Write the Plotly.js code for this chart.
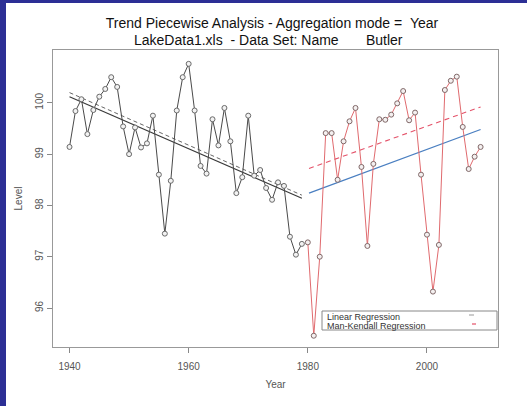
<!DOCTYPE html>
<html>
<head>
<meta charset="utf-8">
<script src="https://cdn.plot.ly/plotly-3.0.1.min.js"></script>
<style>
  html, body { margin: 0; padding: 0; background: #ffffff; }
  #wrap { position: relative; width: 527px; height: 406px; overflow: hidden; }
  #chart { position: absolute; left: 0; top: 0; width: 527px; height: 406px; }
  .strip { position: absolute; background: #2c2f95; }
</style>
</head>
<body>
<div id="wrap">
  <div id="chart"></div>
  <div class="strip" style="left:0;top:0;width:6px;height:406px;"></div>
  <div class="strip" style="left:0;top:0;width:527px;height:3px;"></div>
</div>
<script>
// ---- Data ----
const yearsA = [1940,1941,1942,1943,1944,1945,1946,1947,1948,1949,
                1950,1951,1952,1953,1954,1955,1956,1957,1958,1959,
                1960,1961,1962,1963,1964,1965,1966,1967,1968,1969,
                1970,1971,1972,1973,1974,1975,1976,1977,1978,1979];
const levelsA = [99.14,99.84,100.07,99.39,99.86,100.12,100.27,100.50,100.31,99.54,
                 99.00,99.52,99.13,99.21,99.75,98.60,97.45,98.48,99.85,100.50,
                 100.76,99.85,98.77,98.62,99.68,99.17,99.90,99.25,98.24,98.55,
                 99.75,98.58,98.69,98.34,98.11,98.45,98.38,97.39,97.04,97.25];

const yearsB = [1980,1981,1982,1983,1984,1985,1986,1987,1988,1989,
                1990,1991,1992,1993,1994,1995,1996,1997,1998,1999,
                2000,2001,2002,2003,2004,2005,2006,2007,2008,2009];
const levelsB = [97.28,95.46,97.00,99.41,99.41,98.50,99.25,99.64,99.90,98.75,
                 97.21,98.81,99.68,99.67,99.77,99.99,100.23,99.66,99.81,98.60,
                 97.43,96.32,97.23,100.25,100.43,100.51,99.53,98.71,98.95,99.14];

// regression line end points
const regYearsA = [1940, 1979];
const linRegA   = [100.12, 98.14];
const mkRegA    = [100.20, 98.20];
const regYearsB = [1980.2, 2009];
const linRegB   = [98.24, 99.48];
const mkRegB    = [98.72, 99.92];

const xTickVals = [1940, 1960, 1980, 2000];
const yTickVals = [96, 97, 98, 99, 100];

const titleLine1 = 'Trend Piecewise Analysis - Aggregation mode =\u00a0\u00a0Year';
const titleLine2 = 'LakeData1.xls\u00a0\u00a0- Data Set: Name\u00a0\u00a0\u00a0\u00a0\u00a0\u00a0\u00a0Butler';
const legendLabels = ['Linear Regression', 'Man-Kendall Regression'];

// ---- Layout constants (pixels) ----
const W = 527, H = 406;
const L = 53, R = 498, T = 50, B = 347;
const pw = R - L, ph = B - T;
const px = v => (v - L) / pw;
const py = v => (B - v) / ph;

const font = 'Liberation Sans, Arial, sans-serif';

const traces = [
  { x: regYearsA, y: linRegA, mode: 'lines', line: {color: '#3a3a3a', width: 1.2}, hoverinfo: 'skip' },
  { x: regYearsA, y: mkRegA, mode: 'lines', line: {color: '#666666', width: 1, dash: '4px,3px'}, hoverinfo: 'skip' },
  { x: regYearsB, y: linRegB, mode: 'lines', line: {color: '#4a7fc1', width: 1.3}, hoverinfo: 'skip' },
  { x: regYearsB, y: mkRegB, mode: 'lines', line: {color: '#e4536a', width: 1.1, dash: '5px,4px'}, hoverinfo: 'skip' },
  { x: yearsA, y: levelsA, mode: 'lines+markers',
    line: {color: '#4a4a4a', width: 1},
    marker: {symbol: 'circle', size: 5, color: '#f2f2f2', line: {color: '#6a6a6a', width: 1}} },
  { x: yearsB, y: levelsB, mode: 'lines+markers',
    line: {color: '#e06a6e', width: 1},
    marker: {symbol: 'circle', size: 5, color: '#f4f0f0', line: {color: '#806868', width: 1}} }
];

const layout = {
  width: W, height: H,
  margin: {l: L, r: W - R, t: T, b: H - B, pad: 0},
  paper_bgcolor: '#ffffff', plot_bgcolor: '#ffffff',
  showlegend: false,
  font: {family: font, color: '#555555', size: 10},
  title: {
    text: titleLine1,
    font: {family: font, size: 14, color: '#111111'},
    xref: 'container', x: 272 / W, xanchor: 'center',
    yref: 'container', y: 1 - 23 / H, yanchor: 'middle'
  },
  xaxis: {
    range: [1937.23, 2011.92],
    tickvals: xTickVals, ticktext: xTickVals.map(String),
    ticks: 'outside', ticklen: 5, tickcolor: '#888888', tickwidth: 1,
    ticklabelstandoff: 5,
    showline: true, linecolor: '#999999', linewidth: 1, mirror: true,
    showgrid: false, zeroline: false,
    tickfont: {family: font, size: 10, color: '#555555'},
    title: {text: 'Year', font: {family: font, size: 10, color: '#555555'}, standoff: 9},
    automargin: false
  },
  yaxis: {
    range: [95.24, 101.03],
    tickvals: yTickVals, ticktext: yTickVals.map(String),
    tickangle: -90,
    ticks: 'outside', ticklen: 5, tickcolor: '#888888', tickwidth: 1,
    showline: true, linecolor: '#999999', linewidth: 1, mirror: true,
    showgrid: false, zeroline: false,
    tickfont: {family: font, size: 10, color: '#555555'},
    title: {text: 'Level', font: {family: font, size: 10, color: '#555555'}, standoff: 9},
    automargin: false
  },
  shapes: [
    {type: 'rect', xref: 'paper', yref: 'paper', x0: px(322), x1: px(497), y0: py(330), y1: py(311),
     line: {color: '#888888', width: 1}, fillcolor: '#ffffff', layer: 'above'},
    {type: 'line', xref: 'paper', yref: 'paper', x0: px(469), x1: px(474), y0: py(315), y1: py(315),
     line: {color: '#999999', width: 1}},
    {type: 'line', xref: 'paper', yref: 'paper', x0: px(472), x1: px(476), y0: py(324), y1: py(324),
     line: {color: '#e4536a', width: 1.2}}
  ],
  annotations: [
    {text: titleLine2, xref: 'paper', yref: 'paper', x: px(268.7), y: py(40.5),
     xanchor: 'center', yanchor: 'middle', showarrow: false,
     font: {family: font, size: 14, color: '#111111'}},
    {text: legendLabels[0], xref: 'paper', yref: 'paper', x: px(325), y: py(316.5),
     xanchor: 'left', yanchor: 'middle', showarrow: false,
     font: {family: font, size: 9, color: '#333333'}},
    {text: legendLabels[1], xref: 'paper', yref: 'paper', x: px(325), y: py(325.5),
     xanchor: 'left', yanchor: 'middle', showarrow: false,
     font: {family: font, size: 9, color: '#333333'}}
  ]
};

Plotly.newPlot('chart', traces, layout, {displayModeBar: false, staticPlot: true});
</script>
</body>
</html>
